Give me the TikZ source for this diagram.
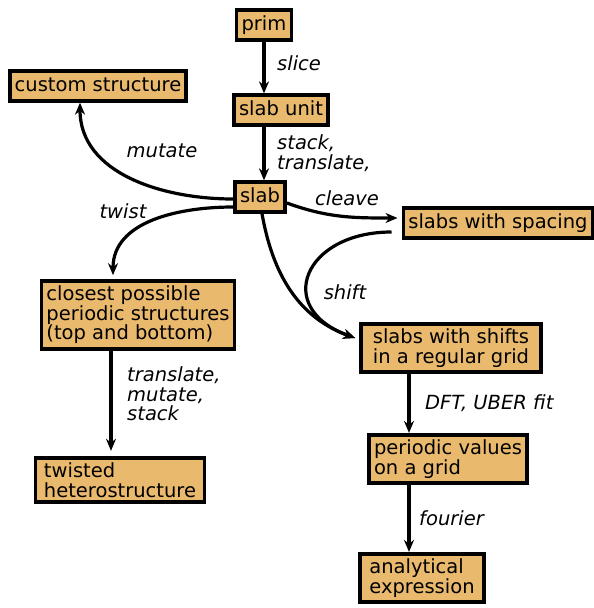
\documentclass[tikz,border=0pt]{standalone}
\usepackage{fontspec}
\setmainfont{DejaVu Sans}[ItalicFont={DejaVu Sans Oblique}]
\usetikzlibrary{arrows.meta,positioning}
\definecolor{boxTan}{RGB}{233,185,110}

\begin{document}
\begin{tikzpicture}[x=1pt,y=-1pt,>={Stealth[length=12pt,width=10pt]},
	box/.style={draw,line width=3.8pt,fill=boxTan,align=left,inner xsep=5pt,inner ysep=5pt,font=\fontsize{19.5}{19.5}\selectfont},
	onebox/.style={box,text height=14.8pt,text depth=4.7pt},
	lbl/.style={font=\fontsize{19.5}{19.5}\selectfont\itshape,align=left,inner sep=0pt},
	conn/.style={line width=3.2pt,->}]
		\useasboundingbox (0,0) rectangle (594,608);
		% boxes
		\node[onebox] (prim) at (264,25) {prim};
		\node[onebox] (unit) at (281,110) {slab unit};
		\node[onebox] (custom) at (98,86) {custom structure};
		\node[onebox] (slab) at (260,197) {slab};
		\node[onebox] (spacing) at (498,223) {slabs with spacing};
		\node[box] (closest) at (138,315) {closest possible\\periodic structures\\(top and bottom)};
		\node[box,minimum width=169pt] (twisted) at (120,480) {twisted\\heterostructure};
		\node[box,minimum width=180pt] (shifts) at (451,348) {slabs with shifts\\in a regular grid};
		\node[box] (periodic) at (448,459) {periodic values\\on a grid};
		\node[box,minimum width=124pt] (analytic) at (422,578) {analytical\\expression};
		% straight arrows
		\draw[conn] (prim.south) -- (prim.south |- unit.north);
		\draw[conn] (unit.south -| prim.south) -- (slab.north -| prim.south);
		\draw[conn] ([xshift=-27pt]closest.south) -- ([xshift=-27pt,yshift=5pt]closest.south |- twisted.north);
		\draw[conn] ([xshift=-42pt]shifts.south) -- ([xshift=-42pt]shifts.south |- periodic.north);
		\draw[conn] ([xshift=-39pt]periodic.south) -- ([xshift=-39pt]periodic.south |- analytic.north);
		% curved arrows
		\draw[conn] ([yshift=-2pt]slab.west) to[out=180,in=-90] ([xshift=-18pt]custom.south);
		\draw[conn] ([yshift=-10pt]slab.west) to[out=180,in=90] ([xshift=-25pt,yshift=4pt]closest.north);
		\draw[conn] ([yshift=-6pt]slab.east) to[out=-20,in=180] ([xshift=-4pt,yshift=5pt]spacing.west);
		\draw[conn] ([xshift=2pt]slab.south) to[out=-80,in=160] ([xshift=-4pt,yshift=10pt]shifts.west);
		\draw[conn] ([xshift=-10pt,yshift=-9pt]spacing.west) to[out=180,in=160,looseness=2] ([xshift=-4pt,yshift=10pt]shifts.west);
		% labels
		\node[lbl,anchor=west] (lslice) at (277,63) {slice};
		\node[lbl,anchor=west] (lstack) at (277,153) {stack,\\translate,};
		\node[lbl] (lmutate) at (162,151) {mutate};
		\node[lbl] (ltwist) at (123,211) {twist};
		\node[lbl] (lcleave) at (347,198) {cleave};
		\node[lbl] (lshift) at (345,292) {shift};
		\node[lbl,anchor=west] (ldft) at (425,403) {DFT, UBER fit};
		\node[lbl,anchor=west] (lfourier) at (419,518) {fourier};
		\node[lbl,anchor=west] (ltrans) at (127,394) {translate,\\mutate,\\stack};
\end{tikzpicture}
\end{document}
